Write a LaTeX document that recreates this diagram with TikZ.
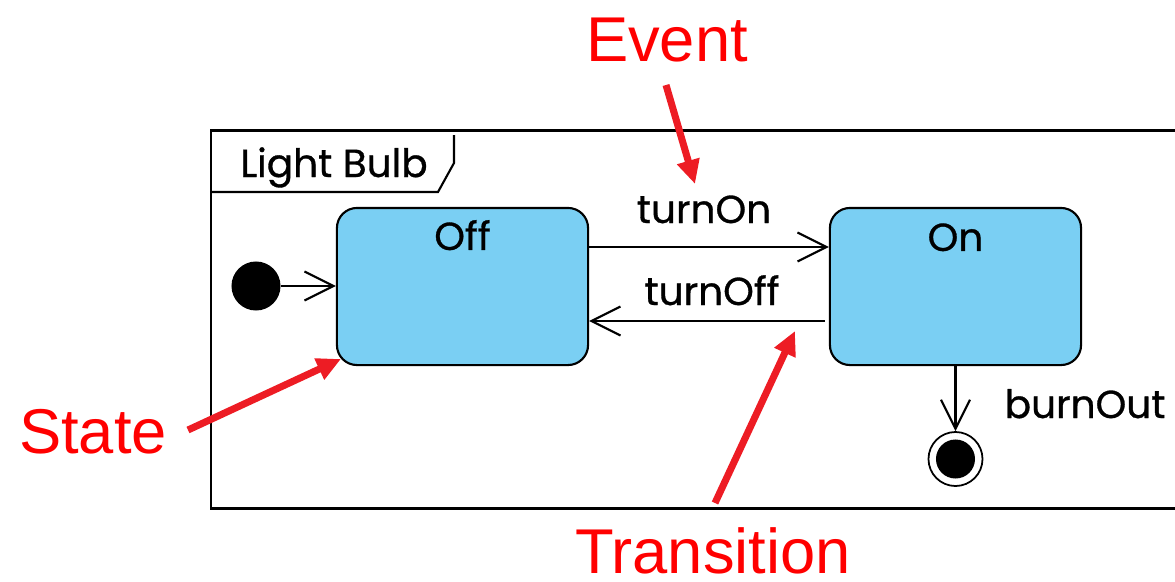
\documentclass[tikz,border=0pt]{standalone}
\usepackage{fontspec}
\setmainfont{Liberation Sans}
\newfontfamily\bulbfont[FakeBold=0.8]{Poppins}
\usetikzlibrary{arrows.meta, positioning}
\definecolor{statefill}{RGB}{122,207,243}
\definecolor{noteline}{RGB}{237,28,36}

\begin{document}
\begin{tikzpicture}[x=0.01cm, y=-0.01cm]
        % ================= 样式定义 =================
        \tikzset{
            % 状态:浅蓝圆角矩形
            statebox/.style={rectangle, rounded corners=2mm, draw=black, line width=0.6pt, fill=statefill, minimum width=2.51cm, minimum height=1.57cm, inner sep=0pt},
            % 图中黑色文字
            umltext/.style={font=\bulbfont\fontsize{11.1}{14}\selectfont, inner sep=0pt, anchor=base},
            % 红色注释文字
            notetext/.style={font=\fontsize{18}{22}\selectfont, text=red, inner sep=0pt, text depth=0pt, anchor=base},
            % 转换:细线 + 开口箭头
            trans/.style={line width=0.6pt, -{Straight Barb[length=2.9mm, width=2.9mm, line width=0.6pt]}},
            % 红色注释箭头
            notearrow/.style={noteline, line width=2pt, -{Triangle[length=2.4mm, width=2.2mm]}},
            % 初始点与终止点
            initdot/.style={circle, fill=black, minimum size=4.9mm, inner sep=0pt},
            finring/.style={circle, draw=black, line width=0.5pt, fill=white, minimum size=5.4mm, inner sep=0pt},
            findot/.style={circle, fill=black, minimum size=3.9mm, inner sep=0pt}
        }
        \useasboundingbox (0,0) rectangle (1175,581);

        % ================= 外框与标签页 =================
        \draw[line width=0.85pt] (1175,130) -- (211,130) -- (211,508) -- (1175,508);
        \draw[line width=0.6pt] (211,192) -- (438,192) -- (454,163) -- (454,135);
        \node[umltext] (bulbtitle) at (334,177) {Light Bulb};

        % ================= 状态 =================
        \node[statebox] (off) at (462.5,286.5) {};
        \node[statebox] (on) at (955.5,286.5) {};
        \node[umltext] (offname) at ([yshift=-4.3mm]off.north) {Off};
        \node[umltext] (onname) at ([yshift=-4.4mm]on.north) {On};

        \node[initdot] (init) at (256,286) {};
        \node[finring] (fin) at (955.5,459) {};
        \node[findot] (findisc) at (fin) {};

        % ================= 转换 =================
        \draw[trans] (init) -- (init -| off.west);
        \draw[trans] ([yshift=3.95mm]off.east) -- ([yshift=3.95mm]on.west);
        \draw[trans] ([xshift=-0.4mm, yshift=-3.45mm]on.west) -- ([yshift=-3.45mm]off.east);
        \draw[trans] (on.south) -- (fin.north);

        \node[umltext] (turnon) at (704,223) {turnOn};
        \node[umltext] (turnoff) at (712,305) {turnOff};
        \node[umltext, anchor=base west] (burnout) at (1004,418) {burnOut};

        % ================= 红色注释 =================
        \node[notetext] (eventnote) at (667,61) {Event};
        \node[notetext] (statenote) at (93,453) {State};
        \node[notetext] (transnote) at (713,573) {Transition};

        \coordinate (eventtail) at (666,85);
        \coordinate (eventtip) at (695,184);
        \coordinate (statetail) at (188,430);
        \coordinate (statetip) at (341,359);
        \coordinate (transtail) at (715,503);
        \coordinate (transtip) at (795,331);
        \draw[notearrow] (eventtail) -- (eventtip);
        \draw[notearrow] (statetail) -- (statetip);
        \draw[notearrow] (transtail) -- (transtip);

    \end{tikzpicture}
\end{document}
